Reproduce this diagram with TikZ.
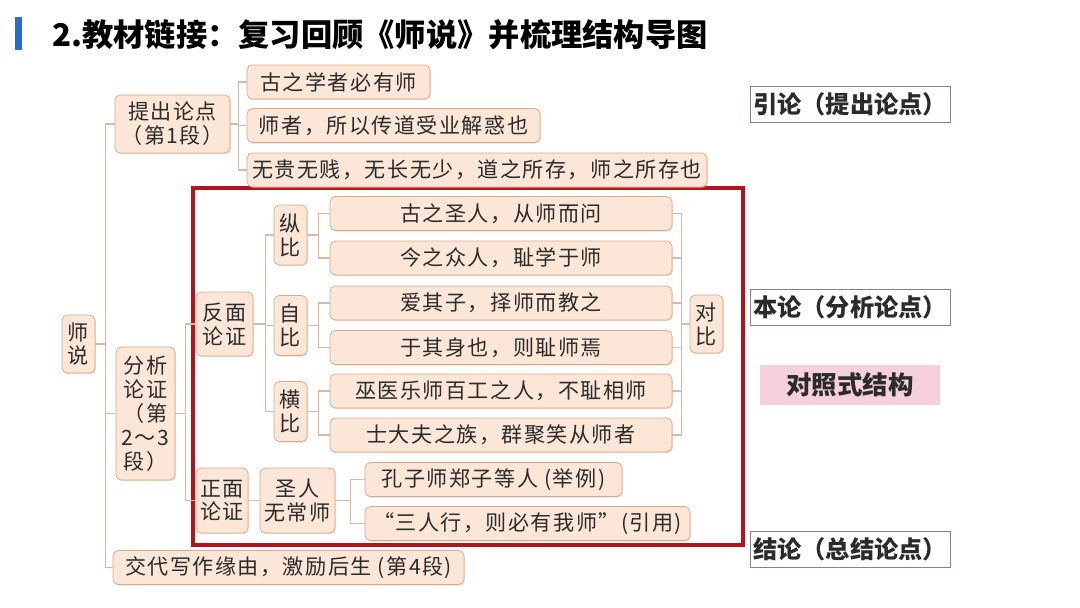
\documentclass[tikz,border=0pt]{standalone}
\usepackage{fontspec}
\setmainfont{Noto Sans CJK SC}
\newfontfamily\cjkbox[LetterSpace=7]{Noto Sans CJK SC}
\usepackage{xcolor}
\definecolor{cFill}{HTML}{FBE6D7}
\definecolor{cEdge}{HTML}{D9A98A}
\definecolor{cLink}{HTML}{D8BAA6}
\definecolor{cFrame}{HTML}{B0141C}
\definecolor{cBlue}{HTML}{2A6CC8}
\definecolor{cTag}{HTML}{8E7F8E}
\definecolor{cPink}{HTML}{F7D0DE}
\definecolor{cText}{HTML}{2B2B2B}
\usepackage{tikz}
\usetikzlibrary{positioning,calc,shadows}
\tikzset{
  node-box/.style={draw=cEdge,fill=cFill,rounded corners=3pt,inner sep=1pt,
    minimum height=0.68cm,align=center,text=cText,
    font=\cjkbox\fontsize{12}{13.6}\selectfont,
    drop shadow={shadow xshift=0.5pt,shadow yshift=-0.7pt,fill=cEdge,opacity=0.4}},
  node-long/.style={node-box,minimum width=6.84cm},
  node-tag/.style={draw=cTag,thin,inner sep=1pt,minimum width=4cm,minimum height=0.72cm,
    text=cText,font=\fontsize{13.8}{16}\selectfont\bfseries},
  link/.style={draw=cLink,line width=0.6pt},
}

\begin{document}
\begin{tikzpicture}[x=0.02cm,y=-0.02cm]
  \fill[white] (0,0) rectangle (1080,608);
  \useasboundingbox (0,0) rectangle (1080,608);
  % title
  \fill[cBlue] (15,17) rectangle (22,50);
  \node[anchor=west,font=\fontsize{17.8}{20}\selectfont\bfseries] (title) at (46,35)
    {2.教材链接：复习回顾《师说》并梳理结构导图};
  % frame of the body part
  \draw[cFrame,line width=2pt] (193,188) rectangle (743,545);
  % tree
  \node[node-box,minimum width=0.66cm,minimum height=1.16cm] (shishuo) at (78.5,344) {师\\说};
  \node[node-box,minimum width=2.3cm,minimum height=1.16cm] (tichu) at (172.5,124) {提出论点\\（第1段）};
  \node[node-box,minimum width=3.66cm] (t1) at (338.5,82) {古之学者必有师};
  \node[node-box,minimum width=5.86cm] (t2) at (393.5,125.5) {师者，所以传道受业解惑也};
  \node[node-box,minimum width=9.2cm] (t3) at (477,170) {无贵无贱，无长无少，道之所存，师之所存也};
  \node[node-box,minimum width=1.18cm,minimum height=2.66cm] (fenxi) at (145.5,413.5)
    {分析\\论证\\（第\\2～3\\段）};
  \node[node-box,minimum width=1.14cm,minimum height=1.28cm] (fanmian) at (224.5,324) {反面\\论证};
  \node[node-box,minimum width=0.66cm,minimum height=1.2cm] (zong) at (290.5,235) {纵\\比};
  \node[node-box,minimum width=0.66cm,minimum height=1.2cm] (zi) at (290.5,325.5) {自\\比};
  \node[node-box,minimum width=0.66cm,minimum height=1.2cm] (heng) at (290.5,411.5) {横\\比};
  \node[node-long] (a1) at (501,213.5) {古之圣人，从师而问};
  \node[node-long] (a2) at (501,258) {今之众人，耻学于师};
  \node[node-long] (a3) at (501,303) {爱其子，择师而教之};
  \node[node-long] (a4) at (501,347.5) {于其身也，则耻师焉};
  \node[node-long] (a5) at (501,391) {巫医乐师百工之人，不耻相师};
  \node[node-long] (a6) at (501,435) {士大夫之族，群聚笑从师者};
  \node[node-box,minimum width=0.66cm,minimum height=1.16cm] (duibi) at (706.5,324) {对\\比};
  \node[node-box,minimum width=1.04cm,minimum height=1.3cm] (zhengmian) at (222,500.5) {正面\\论证};
  \node[node-box,minimum width=1.5cm,minimum height=1.3cm] (shengren) at (297.5,500.5) {圣人\\无常师};
  \node[node-box,minimum width=5.14cm] (kongzi) at (493.5,479.5) {孔子师郑子等人 (举例)};
  \node[node-box,minimum width=6.5cm] (sanren) at (527.5,523.5) {“三人行，则必有我师”(引用)};
  \node[node-box,minimum width=7.02cm] (jiaodai) at (288.5,567.5) {交代写作缘由，激励后生 (第4段)};
  % connectors
  \draw[link] (shishuo.east) -- ++(10,0) coordinate (j0);
  \foreach \n in {tichu,fenxi,jiaodai} \draw[link] (j0) |- (\n.west);
  \draw[link] (tichu.east) -- ++(8,0) coordinate (j1);
  \foreach \n in {t1,t2,t3} \draw[link] (j1) |- (\n.west);
  \draw[link] (fenxi.east) -- ++(10,0) coordinate (j2);
  \foreach \n in {fanmian,zhengmian} \draw[link] (j2) |- (\n.west);
  \draw[link] (fanmian.east) -- ++(12,0) coordinate (j3);
  \foreach \n in {zong,zi,heng} \draw[link] (j3) |- (\n.west);
  \foreach \p/\u/\v in {zong/a1/a2,zi/a3/a4,heng/a5/a6} {
    \draw[link] (\p.east) -- ++(11,0) coordinate (jj) |- (\u.west);
    \draw[link] (jj) |- (\v.west);
  }
  \coordinate (jr) at ($(duibi.west)+(-8,0)$);
  \foreach \n in {a1,a2,a3,a4,a5,a6} \draw[link] (\n.east) -| (jr);
  \draw[link] (jr) -- (duibi.west);
  \draw[link] (zhengmian) -- (shengren);
  \draw[link] (shengren.east) -- ++(15,0) coordinate (j5);
  \foreach \n in {kongzi,sanren} \draw[link] (j5) |- (\n.west);
  % side notes
  \node[node-tag] (yinlun) at (850,104) {引论（提出论点）};
  \node[node-tag] (benlun) at (850,307.5) {本论（分析论点）};
  \node[fill=cPink,minimum width=3.6cm,minimum height=0.8cm,text=cText,
    font=\fontsize{14.5}{16}\selectfont\bfseries] (duizhao) at (850,385) {对照式结构};
  \node[node-tag] (jielun) at (850,549) {结论（总结论点）};
\end{tikzpicture}
\end{document}
